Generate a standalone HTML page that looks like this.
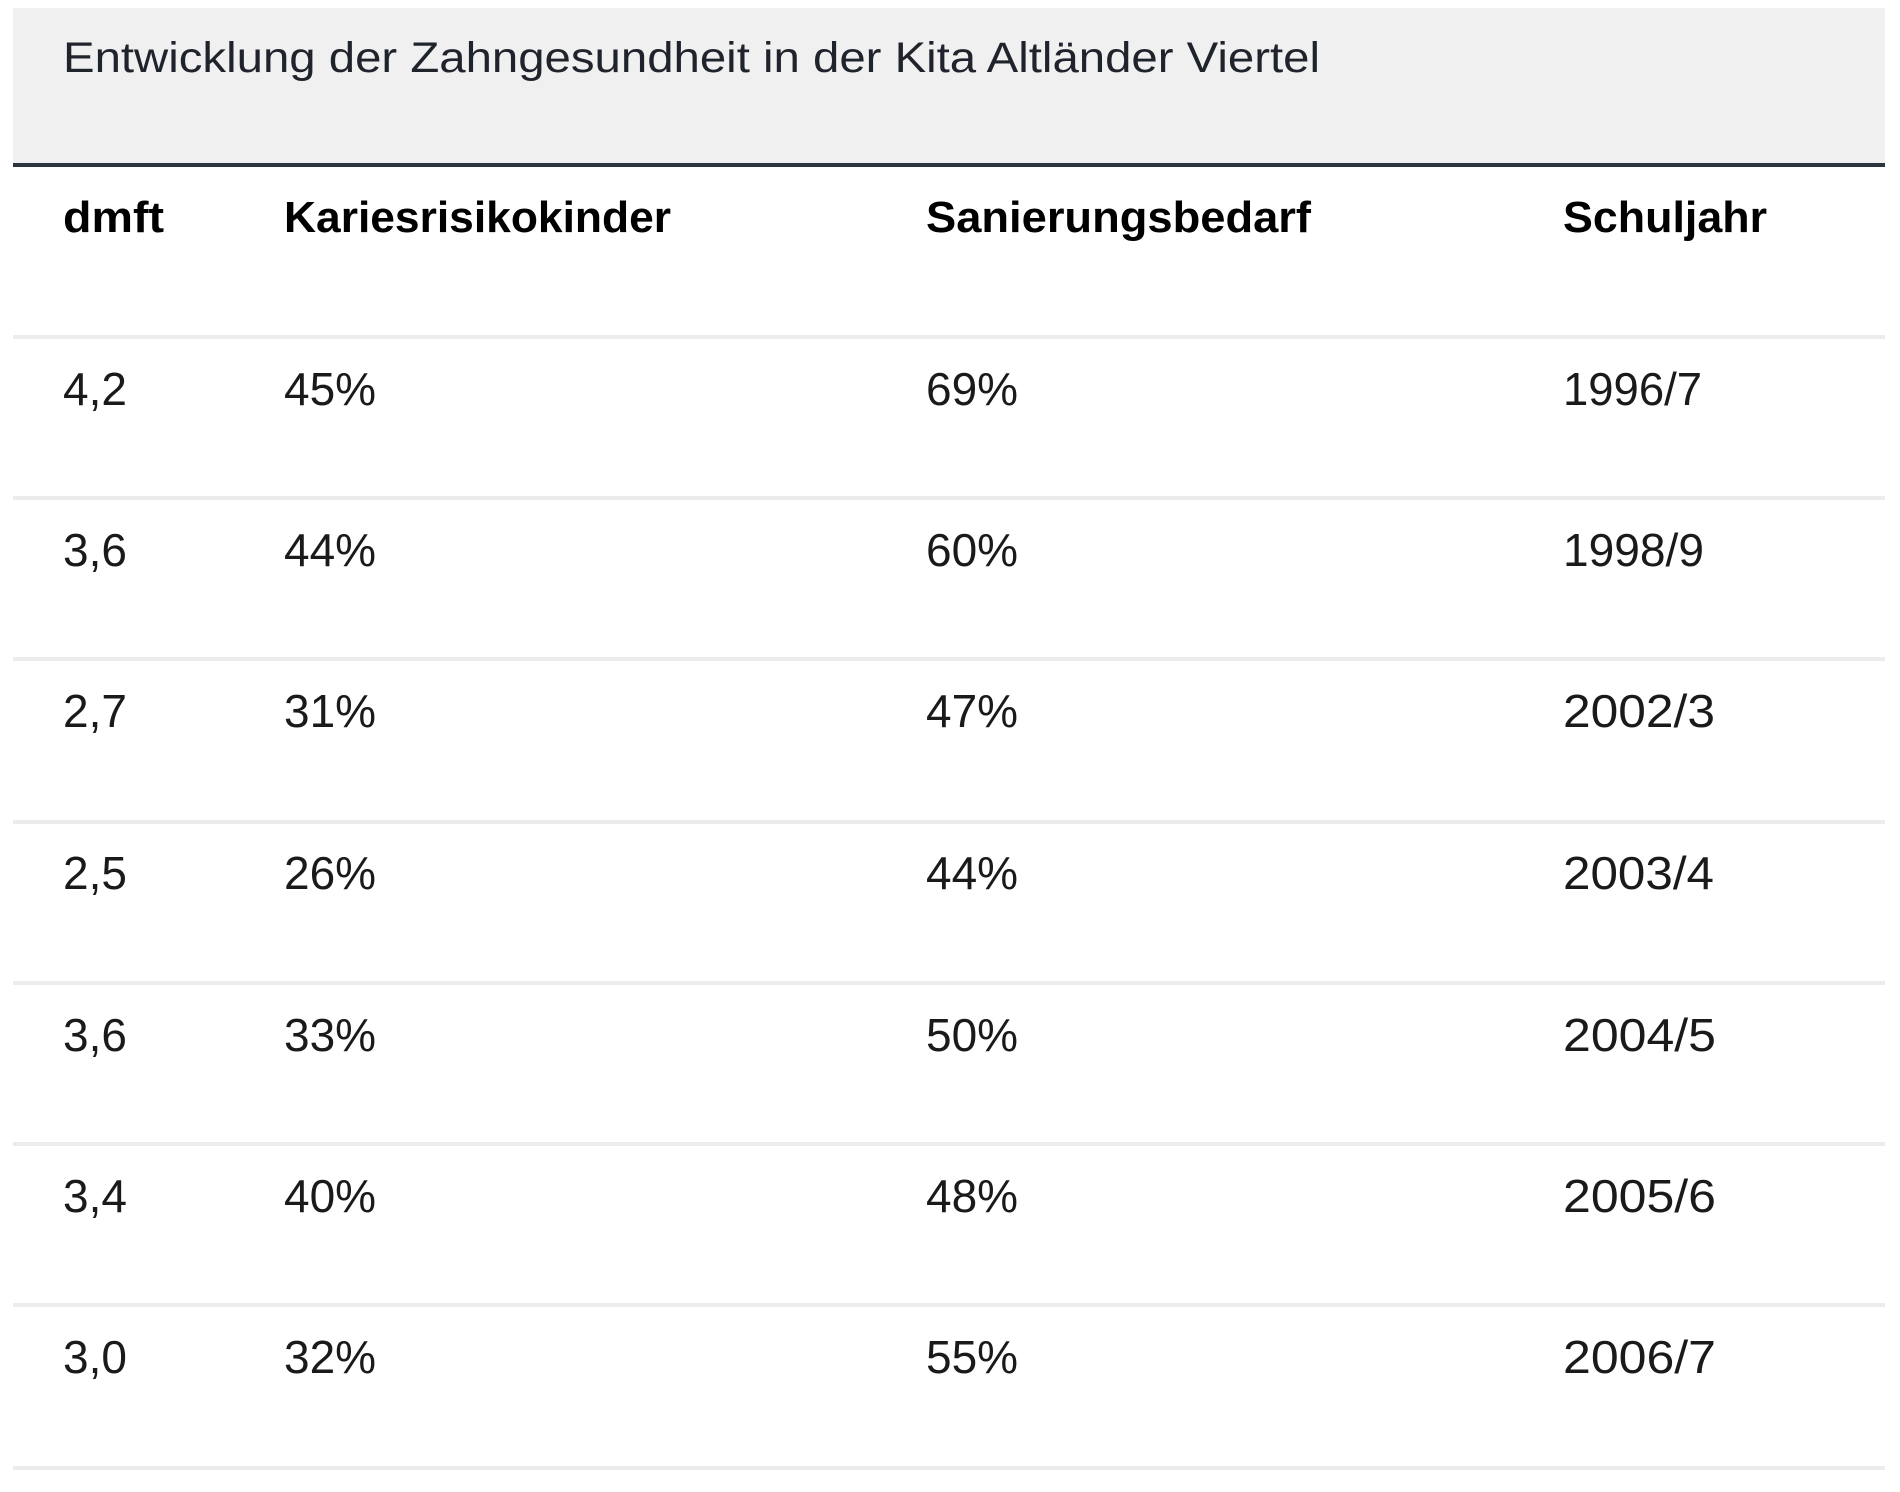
<!DOCTYPE html>
<html>
<head>
<meta charset="utf-8">
<style>
  html, body { margin:0; padding:0; background:#ffffff; }
  svg { display:block; }
  .t { font-family:"Liberation Sans", Arial, sans-serif; }
</style>
</head>
<body>
<svg width="1900" height="1492" viewBox="0 0 1900 1492" xmlns="http://www.w3.org/2000/svg">
  <rect x="0" y="0" width="1900" height="1492" fill="#ffffff"/>
  <!-- caption box -->
  <rect x="13" y="8" width="1872" height="155" fill="#f0f0f0"/>
  <rect x="13" y="163" width="1872" height="4" fill="#2c3440"/>
  <text class="t" x="63" y="72" font-size="43" fill="#1f232b" textLength="1257" lengthAdjust="spacingAndGlyphs">Entwicklung der Zahngesundheit in der Kita Altländer Viertel</text>

  <!-- header -->
  <g class="t" font-size="44" font-weight="bold" fill="#000">
    <text x="63" y="232" textLength="101" lengthAdjust="spacingAndGlyphs">dmft</text>
    <text x="284" y="232" textLength="387" lengthAdjust="spacingAndGlyphs">Kariesrisikokinder</text>
    <text x="926" y="232" textLength="385" lengthAdjust="spacingAndGlyphs">Sanierungsbedarf</text>
    <text x="1563" y="232" textLength="204" lengthAdjust="spacingAndGlyphs">Schuljahr</text>
  </g>

  <!-- separators -->
  <g fill="#ececec">
    <rect x="13" y="335" width="1872" height="4"/>
    <rect x="13" y="496" width="1872" height="4"/>
    <rect x="13" y="657" width="1872" height="4"/>
    <rect x="13" y="820" width="1872" height="4"/>
    <rect x="13" y="981" width="1872" height="4"/>
    <rect x="13" y="1142" width="1872" height="4"/>
    <rect x="13" y="1303" width="1872" height="4"/>
    <rect x="13" y="1466" width="1872" height="4"/>
  </g>

  <!-- rows -->
  <g class="t" font-size="46" fill="#1a1a1a">
    <text x="63" y="405">4,2</text>
    <text x="284" y="405">45%</text>
    <text x="926" y="405">69%</text>
    <text x="1563" y="405" textLength="139" lengthAdjust="spacingAndGlyphs">1996/7</text>

    <text x="63" y="566">3,6</text>
    <text x="284" y="566">44%</text>
    <text x="926" y="566">60%</text>
    <text x="1563" y="566" textLength="141" lengthAdjust="spacingAndGlyphs">1998/9</text>

    <text x="63" y="727">2,7</text>
    <text x="284" y="727">31%</text>
    <text x="926" y="727">47%</text>
    <text x="1563" y="727" textLength="152" lengthAdjust="spacingAndGlyphs">2002/3</text>

    <text x="63" y="889">2,5</text>
    <text x="284" y="889">26%</text>
    <text x="926" y="889">44%</text>
    <text x="1563" y="889" textLength="151" lengthAdjust="spacingAndGlyphs">2003/4</text>

    <text x="63" y="1051">3,6</text>
    <text x="284" y="1051">33%</text>
    <text x="926" y="1051">50%</text>
    <text x="1563" y="1051" textLength="153" lengthAdjust="spacingAndGlyphs">2004/5</text>

    <text x="63" y="1212">3,4</text>
    <text x="284" y="1212">40%</text>
    <text x="926" y="1212">48%</text>
    <text x="1563" y="1212" textLength="153" lengthAdjust="spacingAndGlyphs">2005/6</text>

    <text x="63" y="1373">3,0</text>
    <text x="284" y="1373">32%</text>
    <text x="926" y="1373">55%</text>
    <text x="1563" y="1373" textLength="153" lengthAdjust="spacingAndGlyphs">2006/7</text>
  </g>
</svg>
</body>
</html>
